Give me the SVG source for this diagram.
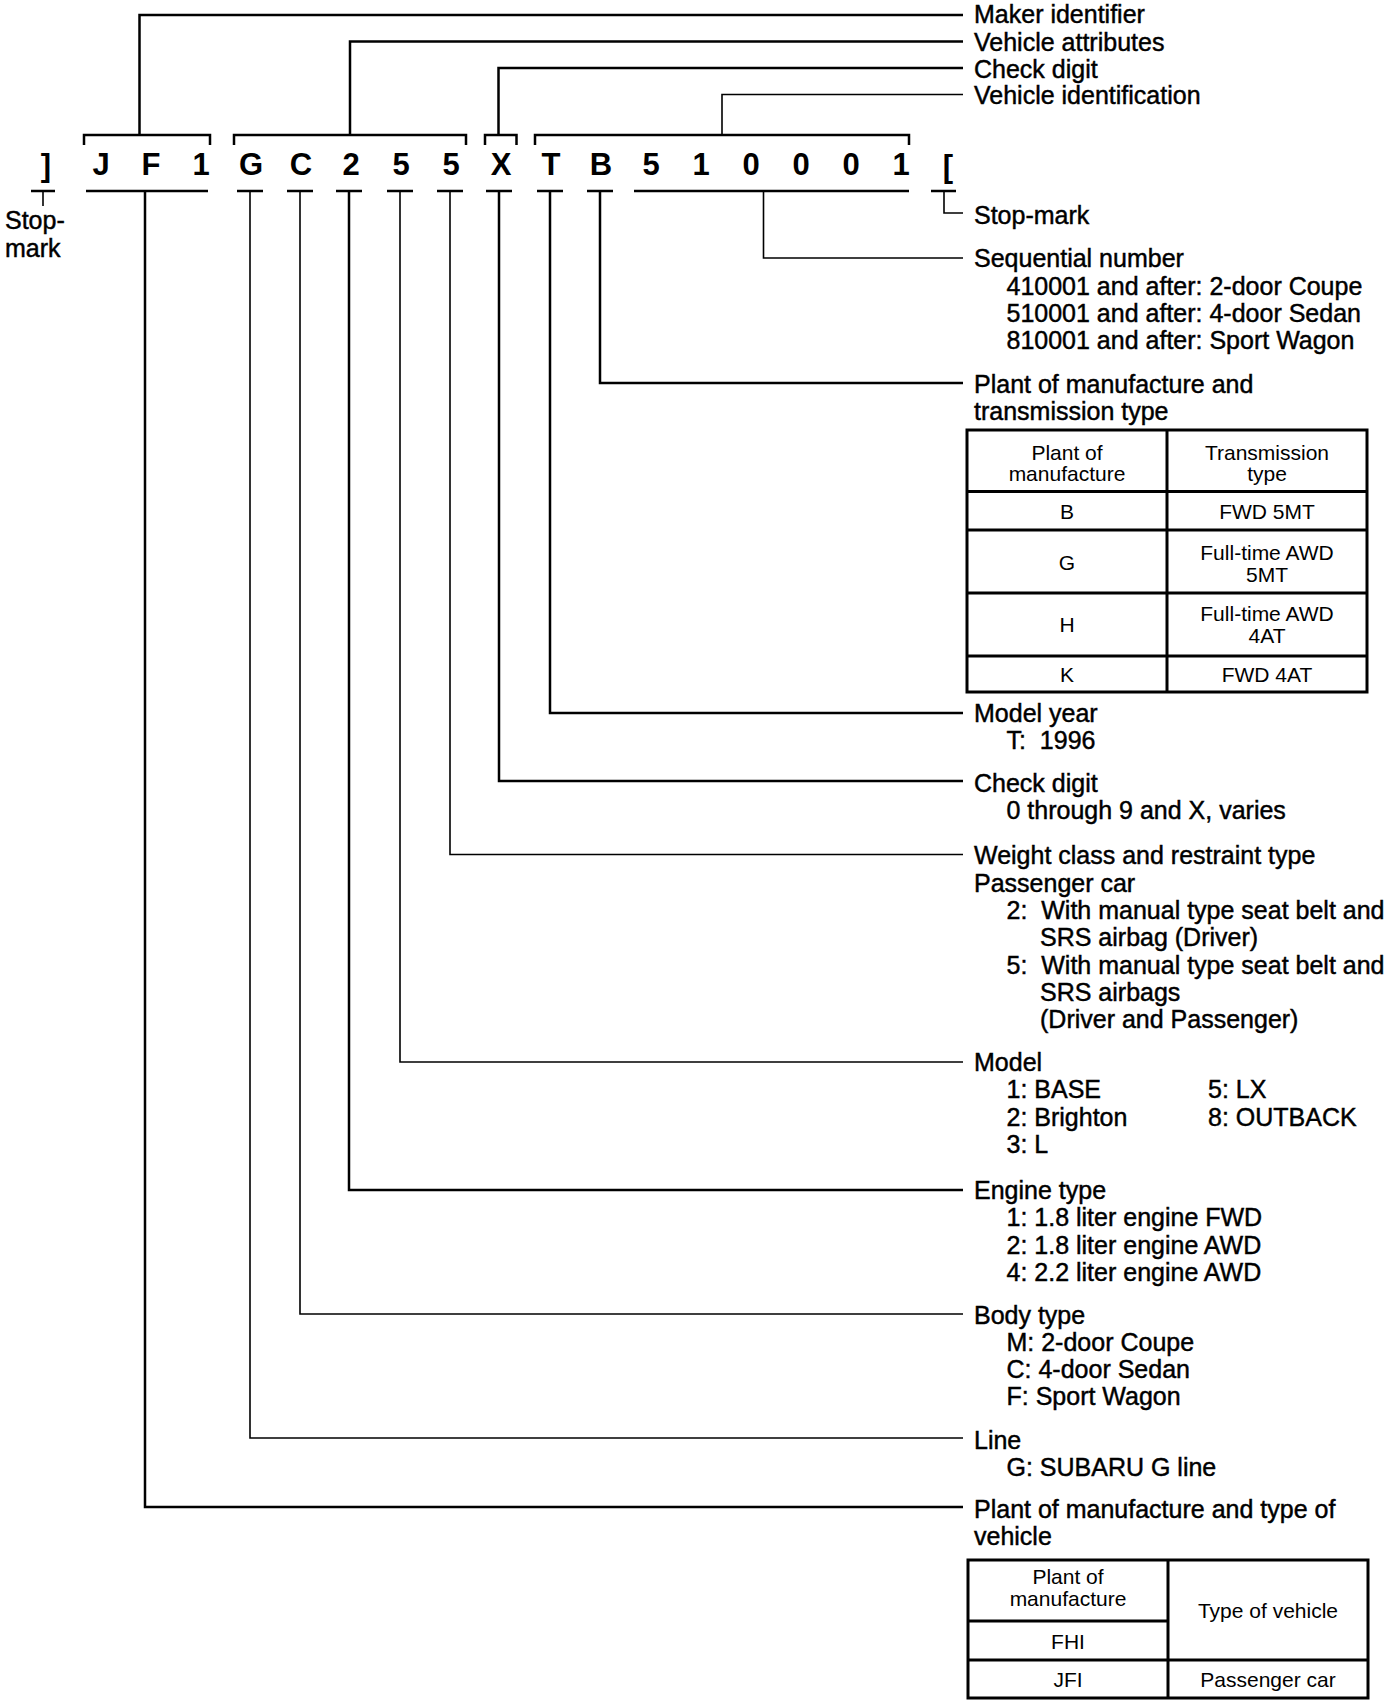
<svg xmlns="http://www.w3.org/2000/svg" width="1392" height="1704" viewBox="0 0 1392 1704">
<style>
.lbl{font-family:"Liberation Sans",Arial,Helvetica,sans-serif;font-size:25px;fill:#000;stroke:#000;stroke-width:0.45px}
.ch{font-family:"Liberation Sans",Arial,Helvetica,sans-serif;font-size:31px;font-weight:bold;fill:#000;text-anchor:middle}
.tb{font-family:"Liberation Sans",Arial,Helvetica,sans-serif;font-size:21px;fill:#000;text-anchor:middle}
.ln{fill:none;stroke:#000;stroke-width:2.5}
.thin{stroke-width:1.6}
.grid{fill:none;stroke:#000;stroke-width:3}
</style>
<rect x="0" y="0" width="1392" height="1704" fill="#fff"/>

<g id="connectors">
  <path class="ln" d="M139.5,135 V15 H963"/>
  <path class="ln" d="M350,135 V41.5 H963"/>
  <path class="ln" d="M498.5,135 V68 H963"/>
  <path class="ln thin" d="M722,135 V94.5 H963"/>
  <path class="ln" d="M84,145 V135 H210 V145"/>
  <path class="ln" d="M234,145 V135 H466 V145"/>
  <path class="ln" d="M485,145 V135 H516.5 V145"/>
  <path class="ln" d="M535,145 V135 H909 V145"/>
  <path class="ln" d="M31,191 H55 M86,191 H208 M237,191 H263 M287,191 H313 M336,191 H362 M387,191 H413 M437,191 H463 M486,191 H512 M537,191 H563 M587,191 H613 M634,191 H909 M931,191 H956"/>
  <path class="ln thin" d="M43,191 V206"/>
  <path class="ln thin" d="M944,191 V213 H963"/>
  <path class="ln thin" d="M763.5,191 V258 H963"/>
  <path class="ln" d="M600,191 V383 H963"/>
  <path class="ln" d="M550,191 V713 H963"/>
  <path class="ln" d="M499,191 V781 H963"/>
  <path class="ln thin" d="M450,191 V854.5 H963"/>
  <path class="ln thin" d="M400,191 V1062 H963"/>
  <path class="ln" d="M349,191 V1190 H963"/>
  <path class="ln thin" d="M300,191 V1314 H963"/>
  <path class="ln thin" d="M250,191 V1438 H963"/>
  <path class="ln" d="M145,191 V1507 H963"/>
</g>

<g id="vin-code">
  <text class="ch" x="46" y="176">]</text>
  <text class="ch" x="101" y="175">J</text>
  <text class="ch" x="151" y="175">F</text>
  <text class="ch" x="201" y="175">1</text>
  <text class="ch" x="251" y="175">G</text>
  <text class="ch" x="301" y="175">C</text>
  <text class="ch" x="351" y="175">2</text>
  <text class="ch" x="401" y="175">5</text>
  <text class="ch" x="451" y="175">5</text>
  <text class="ch" x="501" y="175">X</text>
  <text class="ch" x="551" y="175">T</text>
  <text class="ch" x="601" y="175">B</text>
  <text class="ch" x="651" y="175">5</text>
  <text class="ch" x="701" y="175">1</text>
  <text class="ch" x="751" y="175">0</text>
  <text class="ch" x="801" y="175">0</text>
  <text class="ch" x="851" y="175">0</text>
  <text class="ch" x="901" y="175">1</text>
  <text class="ch" x="948" y="177">[</text>
</g>

<g id="stop-mark-left">
  <text class="lbl" x="5" y="229">Stop-</text>
  <text class="lbl" x="5" y="257">mark</text>
</g>
<g id="maker-identifier"><text class="lbl" x="974" y="22.5">Maker identifier</text></g>
<g id="vehicle-attributes"><text class="lbl" x="974" y="50.5">Vehicle attributes</text></g>
<g id="check-digit-top"><text class="lbl" x="974" y="77.5">Check digit</text></g>
<g id="vehicle-identification"><text class="lbl" x="974" y="104">Vehicle identification</text></g>
<g id="stop-mark-right"><text class="lbl" x="974" y="224">Stop-mark</text></g>
<g id="sequential-number">
  <text class="lbl" x="974" y="267">Sequential number</text>
  <text class="lbl" x="1006.5" y="294.5">410001 and after: 2-door Coupe</text>
  <text class="lbl" x="1006.5" y="321.8">510001 and after: 4-door Sedan</text>
  <text class="lbl" x="1006.5" y="349">810001 and after: Sport Wagon</text>
</g>
<g id="plant-transmission">
  <text class="lbl" x="974" y="393">Plant of manufacture and</text>
  <text class="lbl" x="974" y="420">transmission type</text>
</g>
<g id="table-transmission">
  <rect class="grid" x="967" y="430" width="400" height="262"/>
  <path class="grid" d="M1167,430 V692 M967,491.5 H1367 M967,530 H1367 M967,593 H1367 M967,656 H1367"/>
  <text class="tb" x="1067" y="460">Plant of</text>
  <text class="tb" x="1067" y="481">manufacture</text>
  <text class="tb" x="1267" y="460">Transmission</text>
  <text class="tb" x="1267" y="481">type</text>
  <text class="tb" x="1067" y="519">B</text>
  <text class="tb" x="1267" y="519">FWD 5MT</text>
  <text class="tb" x="1067" y="569.5">G</text>
  <text class="tb" x="1267" y="560">Full-time AWD</text>
  <text class="tb" x="1267" y="581.5">5MT</text>
  <text class="tb" x="1067" y="632">H</text>
  <text class="tb" x="1267" y="621">Full-time AWD</text>
  <text class="tb" x="1267" y="642.5">4AT</text>
  <text class="tb" x="1067" y="681.5">K</text>
  <text class="tb" x="1267" y="681.5">FWD 4AT</text>
</g>
<g id="model-year">
  <text class="lbl" x="974" y="721.5">Model year</text>
  <text class="lbl" x="1006.5" y="748.7" xml:space="preserve">T:  1996</text>
</g>
<g id="check-digit">
  <text class="lbl" x="974" y="792">Check digit</text>
  <text class="lbl" x="1006.5" y="819">0 through 9 and X, varies</text>
</g>
<g id="weight-class">
  <text class="lbl" x="974" y="864">Weight class and restraint type</text>
  <text class="lbl" x="974" y="891.5">Passenger car</text>
  <text class="lbl" x="1006.5" y="919" xml:space="preserve">2:  With manual type seat belt and</text>
  <text class="lbl" x="1040" y="946.3">SRS airbag (Driver)</text>
  <text class="lbl" x="1006.5" y="973.6" xml:space="preserve">5:  With manual type seat belt and</text>
  <text class="lbl" x="1040" y="1000.9">SRS airbags</text>
  <text class="lbl" x="1040" y="1028.2">(Driver and Passenger)</text>
</g>
<g id="model">
  <text class="lbl" x="974" y="1071">Model</text>
  <text class="lbl" x="1006.5" y="1098.3">1: BASE</text>
  <text class="lbl" x="1006.5" y="1125.6">2: Brighton</text>
  <text class="lbl" x="1006.5" y="1152.9">3: L</text>
  <text class="lbl" x="1208" y="1098.3">5: LX</text>
  <text class="lbl" x="1208" y="1125.6">8: OUTBACK</text>
</g>
<g id="engine-type">
  <text class="lbl" x="974" y="1199">Engine type</text>
  <text class="lbl" x="1006.5" y="1226.3">1: 1.8 liter engine FWD</text>
  <text class="lbl" x="1006.5" y="1253.6">2: 1.8 liter engine AWD</text>
  <text class="lbl" x="1006.5" y="1280.9">4: 2.2 liter engine AWD</text>
</g>
<g id="body-type">
  <text class="lbl" x="974" y="1323.5">Body type</text>
  <text class="lbl" x="1006.5" y="1350.8">M: 2-door Coupe</text>
  <text class="lbl" x="1006.5" y="1378.1">C: 4-door Sedan</text>
  <text class="lbl" x="1006.5" y="1405.4">F: Sport Wagon</text>
</g>
<g id="line">
  <text class="lbl" x="974" y="1448.5">Line</text>
  <text class="lbl" x="1006.5" y="1475.8">G: SUBARU G line</text>
</g>
<g id="plant-vehicle">
  <text class="lbl" x="974" y="1518">Plant of manufacture and type of</text>
  <text class="lbl" x="974" y="1545">vehicle</text>
</g>
<g id="table-vehicle">
  <rect class="grid" x="968" y="1560" width="400" height="138"/>
  <path class="grid" d="M1168,1560 V1698 M968,1621 H1168 M968,1660 H1368"/>
  <text class="tb" x="1068" y="1584">Plant of</text>
  <text class="tb" x="1068" y="1606">manufacture</text>
  <text class="tb" x="1068" y="1648.5">FHI</text>
  <text class="tb" x="1268" y="1617.5">Type of vehicle</text>
  <text class="tb" x="1068" y="1687">JFI</text>
  <text class="tb" x="1268" y="1687">Passenger car</text>
</g>
</svg>
